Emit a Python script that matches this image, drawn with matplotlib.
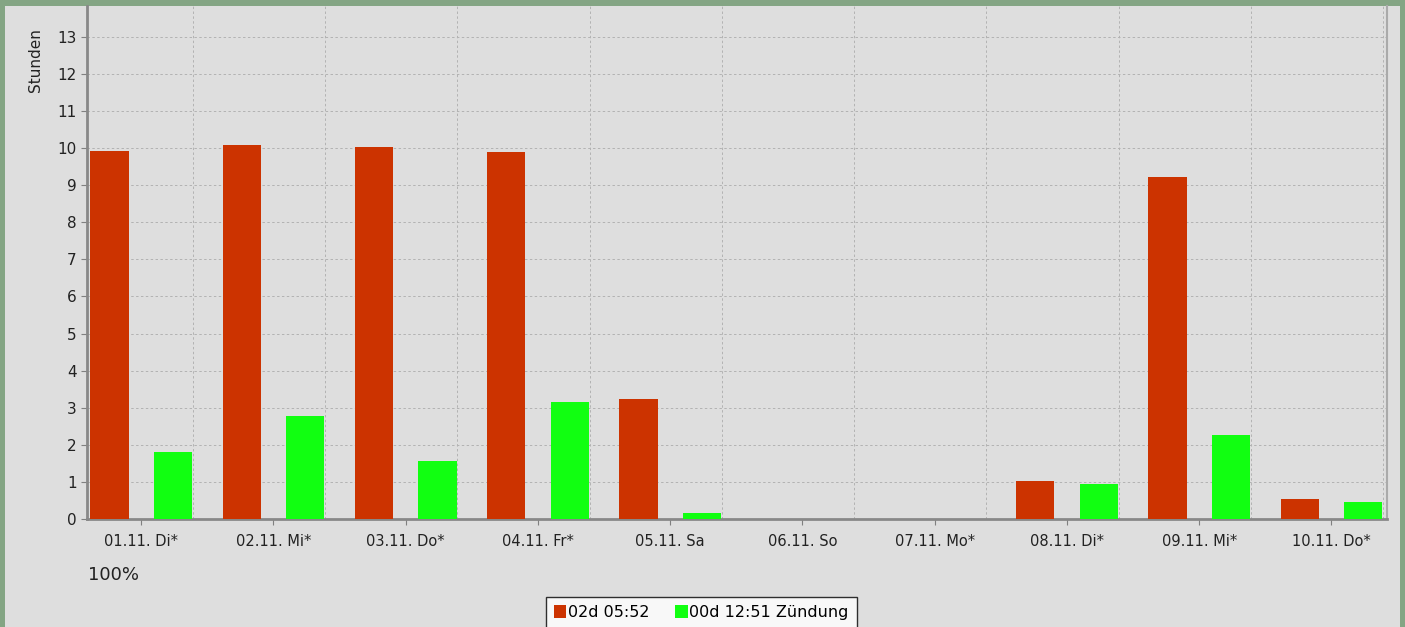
import numpy as np
import matplotlib.pyplot as plt
from matplotlib.patches import Patch, Rectangle

plt.rcParams['font.family'] = ['DejaVu Sans']

# Tage und Stunden je Tag
tage = ['01.11. Di*', '02.11. Mi*', '03.11. Do*', '04.11. Fr*', '05.11. Sa',
        '06.11. So', '07.11. Mo*', '08.11. Di*', '09.11. Mi*', '10.11. Do*']
stunden_gesamt = [9.93, 10.09, 10.04, 9.9, 3.23, 0, 0, 1.02, 9.23, 0.54]
stunden_zuendung = [1.81, 2.77, 1.56, 3.15, 0.16, 0, 0, 0.94, 2.26, 0.47]
legende = ['02d 05:52', '00d 12:51 Zündung']

rot = '#CC3300'
gruen = '#11FF11'
grau = '#DEDEDE'

fig = plt.figure(figsize=(14.05, 6.27), dpi=100)
fig.patch.set_facecolor('#84A584')
# grauer Innenbereich (gruener Rand links/oben/rechts)
fig.patches.append(Rectangle((5 / 1405, 0), 1395 / 1405, 1 - 6 / 627,
                             transform=fig.transFigure, facecolor=grau,
                             edgecolor='none', zorder=-5))

ax = fig.add_axes([87 / 1405, 1 - 519 / 627, 1300 / 1405, 513 / 627])
ax.set_facecolor(grau)

x = np.arange(len(tage))
ax.bar(x - 0.24, stunden_gesamt, width=0.29, color=rot, zorder=3)
ax.bar(x + 0.24, stunden_zuendung, width=0.29, color=gruen, zorder=3)

ax.set_xlim(-0.41, 9.42)
ax.set_ylim(0, 13.83)
ax.set_yticks(range(0, 14))
ax.set_xticks(x)
ax.set_xticklabels(tage, fontsize=10.5, color='#222222')
ax.tick_params(axis='y', labelsize=11, colors='#222222', length=4, color='#808080')
ax.tick_params(axis='x', length=4, color='#808080', pad=7)

# Gitternetz: horizontal je Stunde, vertikal am Ende jeder Kategorie
ax.grid(axis='y', linestyle=(0, (2.5, 2.5)), color='#B2B2B2', linewidth=0.7, zorder=1)
for xi in x:
    ax.axvline(xi + 0.39, linestyle=(0, (2.5, 2.5)), color='#B2B2B2', linewidth=0.7, zorder=1)

for s in ['left', 'bottom']:
    ax.spines[s].set_color('#888888')
    ax.spines[s].set_linewidth(2)
ax.spines['right'].set_color('#AAAAAA')
ax.spines['right'].set_linewidth(1.5)
ax.spines['top'].set_visible(False)

ax.set_ylabel('Stunden', fontsize=11, color='#222222')
ax.yaxis.set_label_coords(-0.034, 0.895)

fig.text(88 / 1405, 1 - 575 / 627, '100%', fontsize=13, va='center', color='#222222')

handles = [Patch(facecolor=rot, edgecolor='none'), Patch(facecolor=gruen, edgecolor='none')]
leg = fig.legend(handles, legende, loc='upper center', bbox_to_anchor=(0.499, 1 - 597 / 627),
                 ncol=2, frameon=True, fancybox=False, edgecolor='black',
                 fontsize=11.5, handlelength=0.8, handleheight=0.8, handletextpad=0.1,
                 columnspacing=1.6, borderpad=0.5, borderaxespad=0)
leg.get_frame().set_linewidth(1)
leg.get_frame().set_facecolor('white')

fig.savefig('out.png', dpi=100, facecolor=fig.get_facecolor())
